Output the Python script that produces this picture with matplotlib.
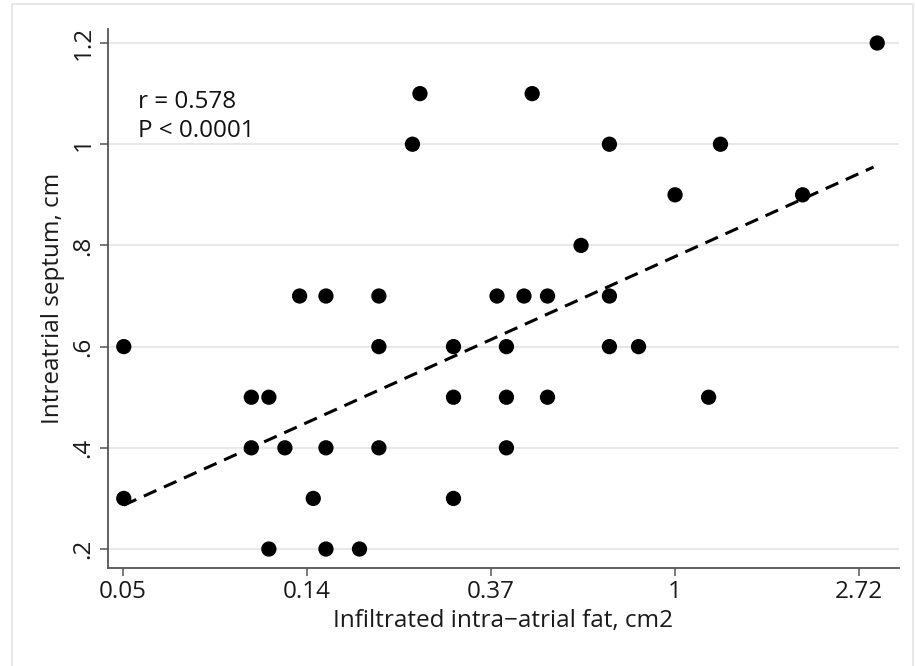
import numpy as np
import matplotlib
matplotlib.use("Agg")
import matplotlib.pyplot as plt
from matplotlib.patches import Rectangle

# Data (x: infiltrated intra-atrial fat, cm2; y: interatrial septum, cm)
fat = [0.05, 0.05, 0.10, 0.10, 0.11, 0.11, 0.12, 0.13, 0.14, 0.15, 0.15, 0.15,
       0.18, 0.20, 0.20, 0.20, 0.24, 0.25, 0.30, 0.30, 0.30, 0.38, 0.40, 0.40,
       0.40, 0.44, 0.46, 0.50, 0.50, 0.60, 0.70, 0.70, 0.70, 0.82, 1.0, 1.2,
       1.28, 2.0, 3.0]
septum = [0.6, 0.3, 0.5, 0.4, 0.5, 0.2, 0.4, 0.7, 0.3, 0.7, 0.4, 0.2,
          0.2, 0.7, 0.6, 0.4, 1.0, 1.1, 0.6, 0.5, 0.3, 0.7, 0.6, 0.5,
          0.4, 0.7, 1.1, 0.7, 0.5, 0.8, 1.0, 0.6, 0.7, 0.6, 0.9, 0.5,
          1.0, 0.9, 1.2]

# fitted line: septum = fit_intercept + fit_slope * ln(fat)
fit_intercept = 0.778
fit_slope = 0.164

xtick_vals = [np.exp(-3), np.exp(-2), np.exp(-1), np.exp(0), np.exp(1)]
xtick_labels = ["0.05", "0.14", "0.37", "1", "2.72"]
ytick_vals = [0.2, 0.4, 0.6, 0.8, 1.0, 1.2]
ytick_labels = [".2", ".4", ".6", ".8", "1", "1.2"]

annot_lines = ["r = 0.578", "P < 0.0001"]

plt.rcParams['font.family'] = ['Open Sans', 'DejaVu Sans']

W, H = 915, 666
fig = plt.figure(figsize=(W / 100, H / 100), dpi=100)
fig.patch.set_facecolor("white")

# outer graph-region border (Stata style)
fig.patches.append(Rectangle((12 / W, -0.05), (913 - 12) / W, 1.05 - 4 / H,
                             transform=fig.transFigure, fill=False,
                             edgecolor="#e4e4e4", linewidth=1.2, zorder=0))

ax = fig.add_axes([108 / W, 1 - 568 / H, (899 - 108) / W, (568 - 29) / H])

x = np.array(fat)
y = np.array(septum)

lx = np.linspace(np.log(x.min()), np.log(x.max()) - 0.02, 100)
ax.plot(np.exp(lx), fit_intercept + fit_slope * lx, color="black",
        linestyle=(0, (4.5, 2.7)), linewidth=2.2, zorder=3)

ax.scatter(x, y, s=11 ** 2, color="black", edgecolors="none", zorder=4)

ax.set_xscale("log")
ax.set_xlim(np.exp(-3.0815), np.exp(1.217))
ax.set_ylim(0.1625, 1.2277)
ax.set_xticks(xtick_vals)
ax.set_xticklabels(xtick_labels)
ax.minorticks_off()
ax.set_yticks(ytick_vals)
ax.set_yticklabels(ytick_labels, rotation=90, va="center")

ax.grid(axis="y", color="#e8e8e8", linewidth=1.5, zorder=0)
ax.set_axisbelow(True)
for s in ["top", "right"]:
    ax.spines[s].set_visible(False)
for s in ["left", "bottom"]:
    ax.spines[s].set_color("#555555")
    ax.spines[s].set_linewidth(1.3)
ax.tick_params(axis="both", colors="#555555", length=6, width=1.1,
               labelsize=17.5, labelcolor="#1a1a1a")
ax.tick_params(axis="y", pad=3)
ax.tick_params(axis="x", pad=3)

ax.set_xlabel("Infiltrated intra\u2212atrial fat, cm2", fontsize=17.5,
              color="#1a1a1a", labelpad=3)
ax.set_ylabel("Intreatrial septum, cm", fontsize=17.5, color="#1a1a1a",
              labelpad=5)

fig.text(138 / W, 1 - 102 / H, annot_lines[0], fontsize=17.5, color="#111111",
         ha="left", va="center")
fig.text(138 / W, 1 - 131 / H, annot_lines[1], fontsize=17.5, color="#111111",
         ha="left", va="center")

fig.savefig("out.png", dpi=100, facecolor="white")
